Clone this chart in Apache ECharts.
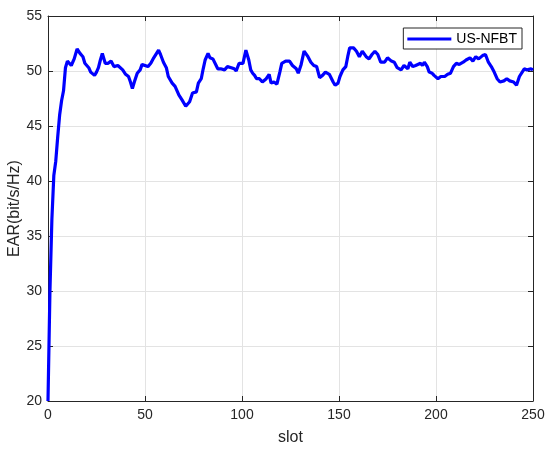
<!DOCTYPE html>
<html>
<head>
<meta charset="utf-8">
<script src="https://cdn.jsdelivr.net/npm/echarts@6/dist/echarts.min.js"></script>
<style>html,body{margin:0;padding:0;background:#fff}#c{width:550px;height:450px}</style>
</head>
<body>
<div id="c"></div>
<script>
const seriesName = 'US-NFBT';
const slots = [0,1,2,3,4,5,6,7,8,9,10,11,12,13.5,15,16.5,18,19,21,22,24,25,26,27,28,29.5,31,32.5,34,36,38.5,40,41.5,42.5,43.5,44.5,46,47.5,48.5,49.5,51.5,53,54.5,55.5,57,58,59.5,61,62,64,65.5,67.5,69,71,72,73,74.5,76.5,77.5,79,80,81,82.5,83.5,85,86,87.5,89,91,92.5,94.5,96,97,98.5,100.5,102,103.5,104.5,105.5,106.5,107.5,109,110.5,112.5,114,115,116.5,118,119.5,120.5,122.5,124.5,126,128,129,130.5,132,134,135.5,137,138.5,140,141.5,143,144,145,147,148,149.5,150.5,152,153.5,154.5,155.5,157.5,159,160.5,162,164,165.5,167,168.5,170,171.5,173.5,175,177,178.5,180,181,182,183.5,185.5,186.5,188,189.5,190.5,192,193,194,195.5,196.5,198,199,201,202.5,204.5,206,207.5,209,210.5,212,214,215.5,217.5,219,220.5,222,224,225.5,227,228.5,230,231.5,233,235,236.5,238,240,241.5,243,245.5,247,249,250];
const ear = [20,30,36.5,40.5,41.8,44,46,47.3,48.2,50.3,50.9,50.8,50.5,51.1,52,51.6,51.3,50.7,50.3,49.9,49.6,49.9,50.3,51,51.6,50.7,50.7,50.9,50.4,50.5,50.1,49.7,49.5,49.0,48.4,49.0,49.8,50.1,50.6,50.5,50.4,50.7,51.2,51.2,51.9,51.5,50.8,50.3,49.5,48.9,48.6,47.8,47.4,46.8,46.75,47.2,48.0,48.1,48.9,49.3,50.2,51.0,51.6,51.2,51.1,51.2,50.2,50.2,50.1,50.4,50.3,50.2,50.0,50.7,50.7,51.9,51.0,50.1,49.8,49.6,49.3,49.3,49.0,49.3,49.7,48.9,49.0,48.8,49.9,50.7,50.9,50.9,50.5,50.2,49.8,50.6,51.8,51.3,50.8,50.5,50.4,49.4,49.6,49.9,50.0,49.7,49.0,48.7,48.9,49.5,50.1,50.4,51.3,52.1,52.1,51.8,51.3,51.8,51.3,51.1,51.5,51.8,51.5,50.8,50.8,51.2,50.9,50.8,50.3,50.2,50.1,50.5,50.2,50.8,50.4,50.5,50.4,50.7,50.5,50.8,50.4,49.9,49.8,49.6,49.3,49.5,49.5,49.7,49.8,50.4,50.7,50.6,50.8,51.0,51.2,50.9,51.3,51.1,51.4,51.5,50.8,50.4,49.9,49.3,49.0,49.1,49.3,49.1,49.0,48.7,49.5,50.2,50.1,50.2,50.1];
const xTicks = [0,50,100,150,200,250];
const yTicks = [20,25,30,35,40,45,50,55];

const font = 'Liberation Sans, Arial, Helvetica, sans-serif';
const axisCol = '#262626';
const chart = echarts.init(document.getElementById('c'));
const data = slots.map((s, i) => [s, ear[i]]);
const baseAxis = {
  axisLine: {show: true, onZero: false, lineStyle: {color: axisCol, width: 1}},
  axisTick: {show: true, inside: true, length: 5, lineStyle: {color: axisCol}},
  splitLine: {show: false},
  axisLabel: {show: false}
};
chart.setOption({
  animation: false,
  backgroundColor: '#fff',
  grid: {left: 48, right: 17, top: 16, bottom: 49, containLabel: false, outerBoundsMode: 'none'},
  legend: {
    right: 28, top: 28,
    data: [{name: seriesName, icon: 'rect'}],
    itemWidth: 44, itemHeight: 3, itemGap: 4,
    padding: [4, 5, 3, 4],
    borderColor: axisCol, borderWidth: 1, backgroundColor: '#fff',
    textStyle: {fontFamily: font, fontSize: 14, color: '#000'}
  },
  xAxis: [
    Object.assign({}, baseAxis, {
      type: 'value', min: xTicks[0], max: xTicks[xTicks.length-1], interval: 50,
      name: 'slot', nameLocation: 'middle', nameGap: 29, nameMoveOverlap: false,
      nameTextStyle: {fontFamily: font, fontSize: 16, color: axisCol},
      axisLabel: {show: true, fontFamily: font, fontSize: 14, color: axisCol, margin: 7},
      splitLine: {show: true, lineStyle: {color: '#e3e3e3', width: 1}}
    }),
    Object.assign({}, baseAxis, {type: 'value', position: 'top', min: 0, max: 250, interval: 50})
  ],
  yAxis: [
    Object.assign({}, baseAxis, {
      type: 'value', min: yTicks[0], max: yTicks[yTicks.length-1], interval: 5,
      name: 'EAR(bit/s/Hz)', nameLocation: 'middle', nameGap: 25, nameMoveOverlap: false,
      nameTextStyle: {fontFamily: font, fontSize: 16, color: axisCol},
      axisLabel: {show: true, fontFamily: font, fontSize: 14, color: axisCol, margin: 6},
      splitLine: {show: true, lineStyle: {color: '#e3e3e3', width: 1}}
    }),
    Object.assign({}, baseAxis, {type: 'value', position: 'right', min: 20, max: 55, interval: 5})
  ],
  series: [{
    name: seriesName, type: 'line', data: data,
    xAxisIndex: 0, yAxisIndex: 0,
    showSymbol: false, symbol: 'none',
    lineStyle: {color: '#0000ff', width: 3.2},
    itemStyle: {color: '#0000ff'}
  }]
});
</script>
</body>
</html>
